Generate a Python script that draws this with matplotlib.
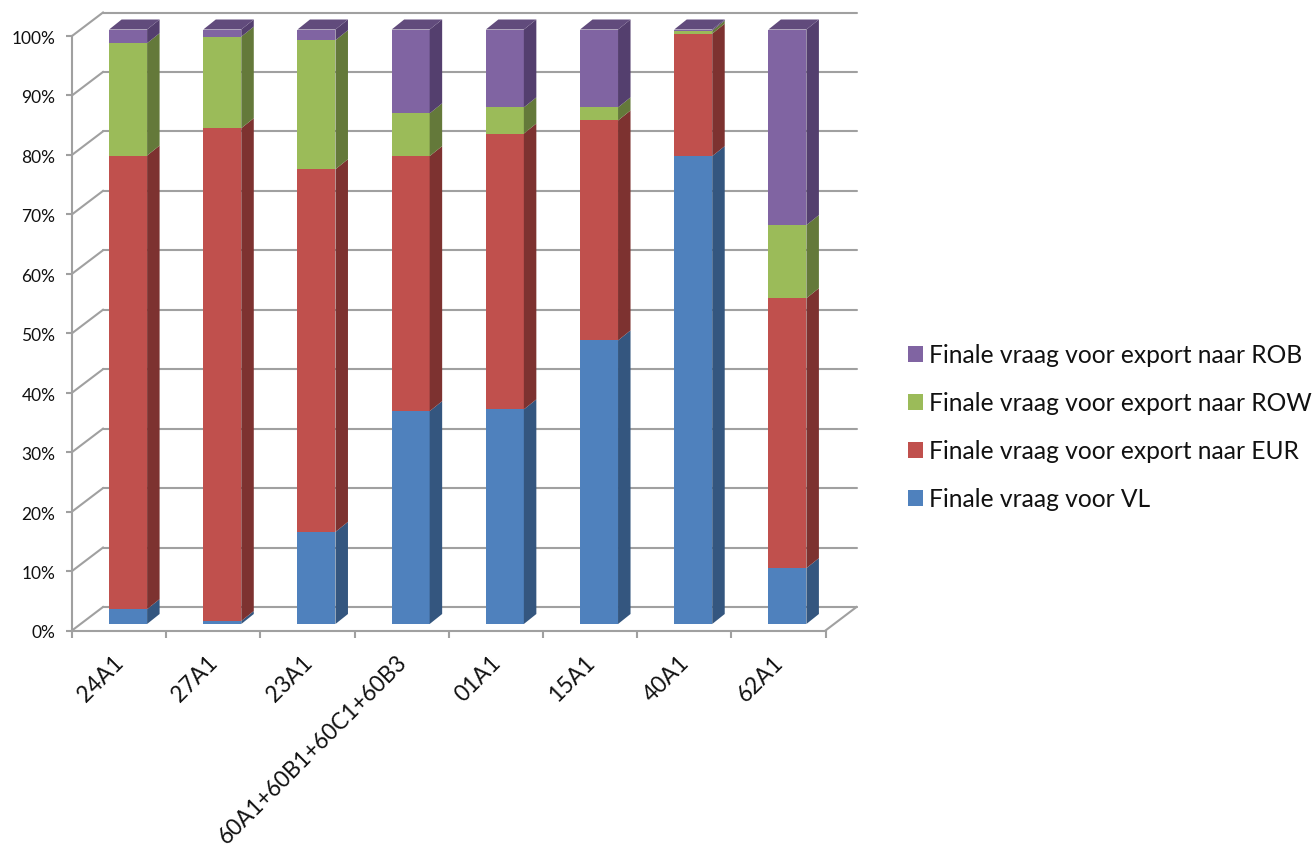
import numpy as np
import matplotlib
matplotlib.use("Agg")
import matplotlib.pyplot as plt
from matplotlib.patches import Polygon, Patch
from matplotlib.transforms import Affine2D

categories = ["24A1", "27A1", "23A1", "60A1+60B1+60C1+60B3", "01A1", "15A1", "40A1", "62A1"]
vl = [2.5, 0.5, 15.5, 35.8, 36.1, 47.7, 78.7, 9.4]
eur = [76.3, 82.9, 61.0, 42.9, 46.4, 37.0, 20.6, 45.4]
row = [18.9, 15.4, 21.7, 7.2, 4.4, 2.2, 0.5, 12.3]
rob = [2.3, 1.2, 1.8, 14.1, 13.1, 13.1, 0.2, 32.9]
series_names = ["Finale vraag voor VL", "Finale vraag voor export naar EUR",
                "Finale vraag voor export naar ROW", "Finale vraag voor export naar ROB"]
y_ticks = list(range(0, 101, 10))

front_cols = ["#4F81BD", "#C0504D", "#9BBB59", "#8064A2"]
side_cols = ["#34567F", "#7D3230", "#64793A", "#543F6E"]
top_cols = ["#3F6796", "#93403D", "#788F47", "#614B7C"]
GRAY = "#A0A0A0"
FONT = "Lato"

W, H = 1312, 849
fig = plt.figure(figsize=(W / 100, H / 100), dpi=100, facecolor="white")
ax_w = 753.5
ax = fig.add_axes([72 / W, (H - 630.5) / H, ax_w / W, 594.5 / H])
ax.set_xlim(0, 8)
ax.set_ylim(0, 100)
ppx = 8 / ax_w     # data units per pixel, x
ppy = 100 / 594.5  # data units per pixel, y

# back wall, side wall and floor
wall_dx, wall_dy = 31 * ppx, 23.5 * ppy
for v in y_ticks:
    ax.plot([wall_dx, 8 + wall_dx], [v + wall_dy] * 2, color=GRAY, lw=1.5, clip_on=False,
            solid_capstyle="round", zorder=1)
    ax.plot([0, wall_dx], [v, v + wall_dy], color=GRAY, lw=1.5, clip_on=False, zorder=1)
ax.plot([8, 8 + wall_dx], [0, wall_dy], color=GRAY, lw=1.5, clip_on=False, zorder=1)

# 3-D stacked columns
x = np.arange(len(categories)) + 0.5 + 9 * ppx
bw = 38 * ppx
lift = 6.5 * ppy
dep_x, dep_y = 12.5 * ppx, 10 * ppy
bottom = np.zeros(len(categories))
stack = [vl, eur, row, rob]
for k, vals in enumerate(stack):
    vals = np.array(vals, dtype=float)
    ax.bar(x, vals, bottom=bottom + lift, width=bw, color=front_cols[k], lw=0,
           clip_on=False, zorder=3)
    for xi, b, v in zip(x, bottom, vals):
        x1 = xi + bw / 2
        y0, y1 = b + lift, b + v + lift
        ax.add_patch(Polygon([(x1, y0), (x1 + dep_x, y0 + dep_y), (x1 + dep_x, y1 + dep_y), (x1, y1)],
                             closed=True, fc=side_cols[k], lw=0, clip_on=False, zorder=3))
        if k == len(stack) - 1:
            x0 = xi - bw / 2
            ax.add_patch(Polygon([(x0, y1), (x1, y1), (x1 + dep_x, y1 + dep_y), (x0 + dep_x, y1 + dep_y)],
                                 closed=True, fc=top_cols[k], lw=0, clip_on=False, zorder=3))
    bottom = bottom + vals

# axes
for s in ("top", "right"):
    ax.spines[s].set_visible(False)
for s in ("left", "bottom"):
    ax.spines[s].set_color(GRAY)
    ax.spines[s].set_linewidth(1.5)
ax.patch.set_visible(False)
ax.set_yticks(y_ticks)
ax.set_yticklabels([f"{v}%" for v in y_ticks], fontsize=12.5, family=FONT, color="#111111")
ax.tick_params(axis="y", length=4, width=1.5, color=GRAY, pad=8)
for lab in ax.get_yticklabels():
    lab.set_transform(lab.get_transform() + Affine2D().translate(0, -1.5))
ax.set_xticks(np.arange(len(categories) + 1))
ax.set_xticklabels([])
ax.set_xticks(np.arange(len(categories)) + 0.5, minor=True)
ax.set_xticklabels(categories, minor=True, rotation=45, ha="right", va="top",
                   rotation_mode="anchor", fontsize=16.3, family=FONT, color="#111111")
ax.tick_params(axis="x", which="major", length=5, width=1.5, color=GRAY)
ax.tick_params(axis="x", which="minor", length=0, pad=15.5)
for lab in ax.get_xticklabels(minor=True):
    lab.set_transform(lab.get_transform() + Affine2D().translate(-6, 0))

# legend
handles = [Patch(fc=c, lw=0) for c in front_cols[::-1]]
fig.legend(handles, series_names[::-1], loc="center left",
           bbox_to_anchor=(908 / W, (H - 427.5) / H), frameon=False,
           prop={"family": FONT, "size": 17.7}, labelcolor="#111111",
           handlelength=0.62, handleheight=0.62, handletextpad=0.24,
           labelspacing=1.02, borderpad=0, borderaxespad=0)

fig.savefig("out.png", dpi=100, facecolor="white")
